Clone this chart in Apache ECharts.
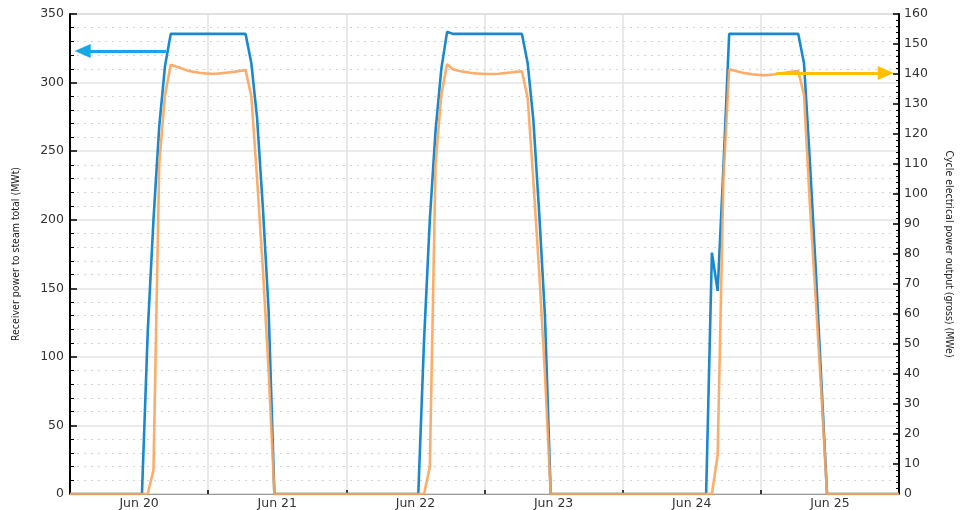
<!DOCTYPE html>
<html>
<head>
<meta charset="utf-8">
<script src="https://cdn.jsdelivr.net/npm/echarts@6/dist/echarts.min.js"></script>
<style>
  html, body { margin: 0; padding: 0; background: #fff; }
  #chart { width: 962px; height: 510px; }
</style>
</head>
<body>
<div id="chart"></div>
<script>
// ---- Data (hours measured from Jun 20 00:00) ----
const xLabels = ['Jun 20', 'Jun 21', 'Jun 22', 'Jun 23', 'Jun 24', 'Jun 25'];
const rangeStart = -12;   // Jun 19 12:00
const rangeEnd = 132;     // Jun 25 12:00
const dayStartHours = [0, 48, 96]; // Jun 20, Jun 22, Jun 24
const hourOfDay = [0.5, 1.5, 2.5, 3.5, 4.5, 5.5, 6.5, 7.5, 8.5, 9.5, 10.5, 11.5,
                   12.5, 13.5, 14.5, 15.5, 16.5, 17.5, 18.5, 19.5, 20.5, 21.5, 22.5, 23.5];

// Receiver power to steam total (MWt)
const receiverJun20 = [0, 118, 200, 268, 312, 335.5, 335.5, 335.5, 335.5, 335.5, 335.5, 335.5,
                       335.5, 335.5, 335.5, 335.5, 335.5, 335.5, 335.5, 314, 274, 209, 134, 0];
const receiverJun22 = [0, 112, 200, 265, 310, 337, 335.5, 335.5, 335.5, 335.5, 335.5, 335.5,
                       335.5, 335.5, 335.5, 335.5, 335.5, 335.5, 335.5, 314, 272, 205, 130, 0];
const receiverJun24 = [0, 0, 0, 176, 148, 238, 335.5, 335.5, 335.5, 335.5, 335.5, 335.5,
                       335.5, 335.5, 335.5, 335.5, 335.5, 335.5, 335.5, 314, 244, 167, 83, 0];

// Cycle electrical power output (gross) (MWe)
const cycleJun20 = [0, 0, 8, 110, 133, 143.1, 142.4, 141.8, 141.1, 140.7, 140.4, 140.2,
                    140.1, 140.1, 140.3, 140.5, 140.7, 141.0, 141.3, 132.5, 105, 75, 41, 0];
const cycleJun22 = [0, 0, 9, 110, 133, 143.3, 141.6, 141.1, 140.7, 140.4, 140.2, 140.1,
                    140.0, 140.0, 140.1, 140.3, 140.5, 140.7, 140.9, 132, 104, 74, 40, 0];
const cycleJun24 = [0, 0, 0, 0, 13, 105, 141.6, 141.1, 140.6, 140.2, 139.9, 139.7,
                    139.6, 139.7, 139.9, 140.2, 140.5, 140.8, 141.0, 133, 97, 66, 34, 0];

// Annotation arrows (data coordinates)
const receiverArrow = { fromHour: 4.7, toHour: -9.8, value: 323 };
const cycleArrow = { fromHour: 110.7, toHour: 129.7, value: 140.3 };

function buildSeries(days) {
  const pts = [[rangeStart, 0]];
  days.forEach((vals, d) => {
    vals.forEach((v, i) => pts.push([dayStartHours[d] + hourOfDay[i], v]));
  });
  pts.push([rangeEnd, 0]);
  return pts;
}

const receiverData = buildSeries([receiverJun20, receiverJun22, receiverJun24]);
const cycleData = buildSeries([cycleJun20, cycleJun22, cycleJun24]);

const labelFont = 'DejaVu Sans';
const nameFont = "'Liberation Sans Narrow', 'DejaVu Sans Condensed', 'Liberation Sans', sans-serif";

const chart = echarts.init(document.getElementById('chart'), null, { renderer: 'canvas' });
chart.setOption({
  animation: false,
  backgroundColor: '#ffffff',
  grid: { left: 70, right: 58, top: 14, bottom: 14, show: true, borderColor: '#a8a8a8', borderWidth: 1 },
  xAxis: [
    {
      type: 'value', min: rangeStart, max: rangeEnd, interval: 24, position: 'bottom',
      axisLine: { show: false, onZero: false },
      axisTick: { show: true, inside: true, length: 4, lineStyle: { color: '#000', width: 1.5 } },
      axisLabel: { show: false },
      splitLine: { show: true, lineStyle: { color: '#e2e2e2', width: 1.5 } }
    },
    {
      type: 'value', min: rangeStart, max: rangeEnd, interval: 12, position: 'bottom',
      axisLine: { show: true, onZero: false, lineStyle: { color: '#9a9a9a', width: 1 } },
      axisTick: { show: false },
      splitLine: { show: false },
      axisLabel: {
        margin: 3, fontFamily: labelFont, fontSize: 12.5, color: '#333',
        formatter: function (v) {
          if (v % 24 !== 0) return '';
          const idx = v / 24;
          return xLabels[idx] || '';
        }
      }
    }
  ],
  yAxis: [
    {
      type: 'value', min: 0, max: 350, interval: 50, position: 'left',
      name: 'Receiver power to steam total (MWt)', nameLocation: 'middle', nameGap: 48,
      nameTextStyle: { fontFamily: nameFont, fontSize: 10.5, color: '#222' },
      axisLine: { show: true, onZero: false, lineStyle: { color: '#000', width: 2 } },
      axisTick: { show: true, inside: true, length: 7, lineStyle: { color: '#000', width: 1.5 } },
      minorTick: { show: true, splitNumber: 5, length: 4, lineStyle: { color: '#000', width: 1 } },
      axisLabel: { margin: 6, fontFamily: labelFont, fontSize: 12.5, color: '#333' },
      splitLine: { show: true, lineStyle: { color: '#e4e4e4', width: 1.5 } },
      minorSplitLine: { show: true, lineStyle: { color: '#d2d2d2', width: 1, type: [2, 5] } }
    },
    {
      type: 'value', min: 0, max: 160, interval: 10, position: 'right',
      name: 'Cycle electrical power output (gross) (MWe)', nameLocation: 'middle', nameGap: 44, nameRotate: -90,
      nameTextStyle: { fontFamily: nameFont, fontSize: 10.5, color: '#222' },
      axisLine: { show: true, onZero: false, lineStyle: { color: '#000', width: 2 } },
      axisTick: { show: true, inside: true, length: 6, lineStyle: { color: '#000', width: 1.5 } },
      minorTick: { show: true, splitNumber: 5, length: 3, lineStyle: { color: '#000', width: 1 } },
      axisLabel: { margin: 5, fontFamily: labelFont, fontSize: 12.5, color: '#333' },
      splitLine: { show: false }
    }
  ],
  series: [
    {
      name: 'Receiver power to steam total (MWt)',
      type: 'line', xAxisIndex: 0, yAxisIndex: 0,
      data: receiverData, symbol: 'none', showSymbol: false, z: 3,
      lineStyle: { color: '#1a88cf', width: 2.6 },
      markLine: {
        silent: true, symbol: ['none', 'triangle'], symbolSize: [14, 16],
        label: { show: false },
        lineStyle: { color: '#17a6ea', width: 3, type: 'solid' },
        data: [[
          { coord: [receiverArrow.fromHour, receiverArrow.value] },
          { coord: [receiverArrow.toHour, receiverArrow.value] }
        ]]
      }
    },
    {
      name: 'Cycle electrical power output (gross) (MWe)',
      type: 'line', xAxisIndex: 0, yAxisIndex: 1,
      data: cycleData, symbol: 'none', showSymbol: false, z: 4,
      lineStyle: { color: '#fda45a', width: 2.6, opacity: 0.9 },
      markLine: {
        silent: true, symbol: ['none', 'triangle'], symbolSize: [14, 16],
        label: { show: false },
        lineStyle: { color: '#ffc000', width: 3, type: 'solid', opacity: 1 },
        data: [[
          { coord: [cycleArrow.fromHour, cycleArrow.value] },
          { coord: [cycleArrow.toHour, cycleArrow.value] }
        ]]
      }
    }
  ]
});
</script>
</body>
</html>
